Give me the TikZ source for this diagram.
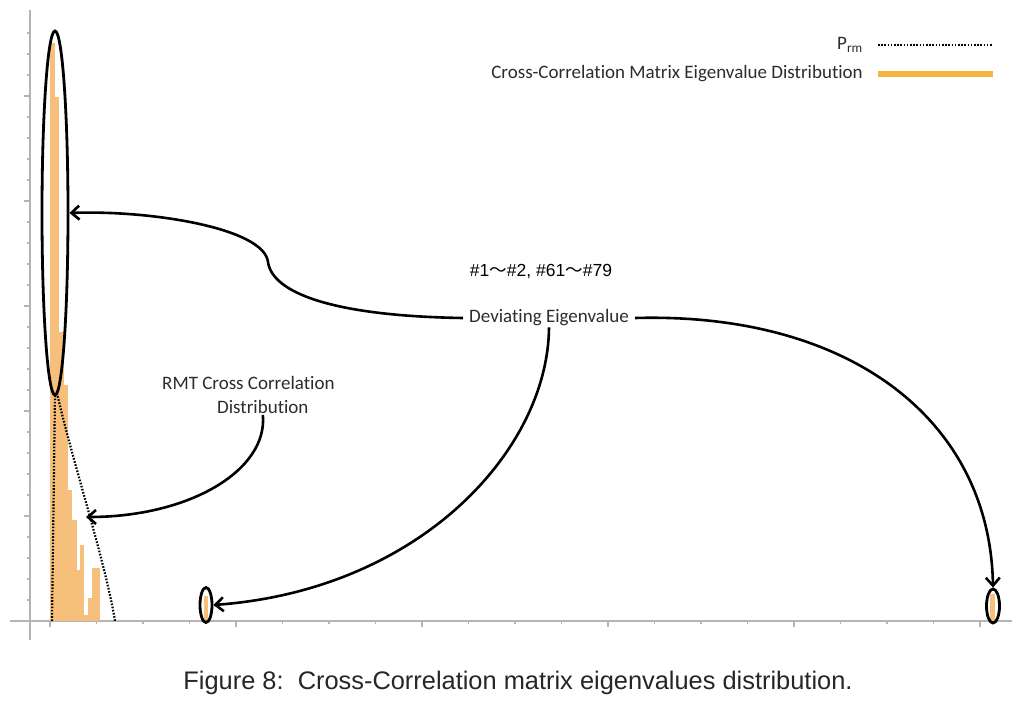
\documentclass[tikz,border=0pt]{standalone}
\usepackage{fontspec}
\setmainfont{Liberation Sans}
\newfontfamily\calibri[Ligatures=NoCommon]{Carlito}
\newfontfamily\cjk{Noto Sans CJK SC}
\usetikzlibrary{arrows.meta,shapes.geometric,positioning}
\definecolor{histo}{HTML}{F6C07C}
\definecolor{legorange}{HTML}{F5B440}
\definecolor{axisgray}{HTML}{B4B4B4}
\definecolor{labeltext}{HTML}{2C2C2C}

\begin{document}
\begin{tikzpicture}[
x=1pt,y=-1pt,
Labels/.style={font=\calibri\fontsize{19}{22}\selectfont,text=labeltext,inner sep=1pt},
Marks/.style={draw=black,line width=2.8pt,ellipse,inner sep=0pt},
Pointers/.style={draw=black,line width=2.6pt,-{Straight Barb[length=8pt,width=14pt]}},
RMT/.style={black,line width=2.2pt,dash pattern=on 1.6pt off 1.6pt},
Axis/.style={draw=axisgray,line width=1.2pt}
]
\useasboundingbox (0,0) rectangle (1025,703);

% axes and ticks
\draw[Axis] (30,10) -- (30,640);
\draw[Axis] (10,621) -- (1012,621);
\foreach \y in {96,201,...,516} \draw[Axis] (30,\y) -- (24,\y);
\foreach \y in {33,54,...,600} \draw[Axis] (30,\y) -- (27,\y);
\foreach \x in {50,236,...,980} \draw[Axis] (\x,621) -- (\x,627);
\foreach \x in {96.5,143,...,1000} \draw[Axis] (\x,621) -- (\x,624);

% histogram of the eigenvalues
\foreach \xa/\xb/\top in {50/55/43, 55/59/97, 59/64/332, 64/68/385, 68/72/490,
  72/77/520, 77/80/570, 80/84/545, 84/88/615, 88/92/598, 92/100/568}
  \fill[histo] (\xa,\top) rectangle (\xb,621);
\fill[histo] (204,596) rectangle (208,621);
\fill[histo] (990,594) rectangle (995,621);

% RMT density
\draw[RMT] (52,621) -- (55,393);
\draw[RMT] (57,393) .. controls (72,460) and (105,560) .. (115,621);

% marked regions
\node[Marks,minimum width=26pt,minimum height=364pt] (bigmark) at (55,213) {};
\node[Marks,minimum width=12pt,minimum height=35pt] (mark20) at (206,605) {};
\node[Marks,minimum width=13pt,minimum height=34pt] (mark100) at (993,606) {};

% labels
\node[Labels,inner xsep=6pt] (dev) at (549,318) {Deviating Eigenvalue};
\node[font=\fontsize{17.5}{20}\selectfont] (range) at (541,272) {\#1{\cjk ～}\#2, \#61{\cjk ～}\#79};
\node[Labels,anchor=west] (rmttop) at (161,383) {RMT Cross Correlation};
\node[Labels,anchor=west] (rmtbot) at (216,407) {Distribution};
\coordinate (rmtcurve) at (86,517);

\draw[Pointers] (dev.west) .. controls (330,316) and (272,292) .. (268,262)
  .. controls (264,228) and (150,210) .. (bigmark.east);
\draw[Pointers] (dev.east) .. controls (850,312) and (990,420) .. (mark100.north);
\draw[Pointers] (dev.south) .. controls (548,450) and (420,590) .. (mark20.east);
\draw[Pointers] (rmtbot.south) .. controls (268,470) and (190,517) .. (rmtcurve);

% legend
\node[Labels,anchor=east] (legrmt) at (864,45) {P\textsubscript{rm}};
\coordinate (dotsA) at (878,45);
\coordinate (dotsB) at (993,45);
\draw[RMT] (dotsA) -- (dotsB);
\node[Labels,anchor=east] (legcc) at (864,74) {Cross-Correlation Matrix Eigenvalue Distribution};
\coordinate (barA) at (878,74);
\coordinate (barB) at (993,74);
\draw[legorange,line width=5.5pt] (barA) -- (barB);

\node[font=\fontsize{25.4}{28}\selectfont,text=black!85] (caption) at (518,683)
  {Figure 8:\ \ Cross-Correlation matrix eigenvalues distribution.};
\end{tikzpicture}
\end{document}
